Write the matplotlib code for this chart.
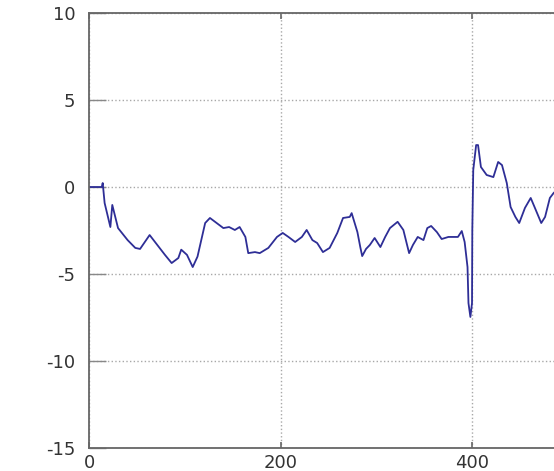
import matplotlib
matplotlib.use('Agg')
import matplotlib.pyplot as plt

# sample index and signal value
x = [0, 13, 14, 16, 22, 24, 30, 40, 48, 53, 63, 71, 79, 86, 93, 96,
     102, 108, 113, 121, 126, 133, 140, 146, 152, 157, 163, 166, 173, 178,
     187, 196, 202, 208, 215, 222, 227, 233, 238, 244, 251, 259, 265, 272,
     274, 280, 283, 285, 289, 293, 298, 304, 309, 314, 322, 328, 334, 338,
     343, 349, 353, 357, 363, 368, 375, 385, 389, 392, 395, 396, 398, 399.7,
     400, 401, 404, 406, 409, 415, 422, 427, 431, 436, 440, 445, 449, 455,
     461, 465, 472, 476, 481, 485, 490]
y = [0, 0, 0.23, -0.92, -2.3, -1.03, -2.36, -3.05, -3.5, -3.56, -2.76,
     -3.33, -3.9, -4.37, -4.08, -3.6, -3.9, -4.6, -4.0, -2.07, -1.78,
     -2.07, -2.36, -2.3, -2.47, -2.3, -2.87, -3.8, -3.74, -3.8, -3.5,
     -2.87, -2.64, -2.87, -3.16, -2.87, -2.47, -3.05, -3.22, -3.74, -3.5,
     -2.64, -1.78, -1.72, -1.5, -2.59, -3.45, -3.97, -3.56, -3.33, -2.93,
     -3.45, -2.87, -2.36, -2.0, -2.47, -3.8, -3.33, -2.87, -3.05, -2.36,
     -2.24, -2.59, -2.99, -2.87, -2.87, -2.53, -3.16, -4.6, -6.67, -7.47,
     -6.67, -2.47, 0.98, 2.41, 2.41, 1.15, 0.69, 0.57, 1.44, 1.26, 0.23,
     -1.15, -1.72, -2.07, -1.2, -0.63, -1.15, -2.07, -1.72, -0.63, -0.34,
     -0.1]

x_ticks = [0, 200, 400]
y_ticks = [-15, -10, -5, 0, 5, 10]

fig = plt.figure(figsize=(5.54, 4.71), dpi=100)
# axes run past the right edge, as in the cropped reference
ax = fig.add_axes([0.1612, 0.0488, 1.037, 0.9236])

ax.plot(x, y, color='#2e2e96', linewidth=1.3)

ax.set_xlim(0, 600)
ax.set_ylim(-15, 10)
ax.set_xticks(x_ticks)
ax.set_yticks(y_ticks)
ax.set_xticklabels([str(t) for t in x_ticks])
ax.set_yticklabels([str(t) for t in y_ticks])

ax.grid(True, linestyle=':', color='#a8a8a8', linewidth=1.0)

for s in ax.spines.values():
    s.set_color('#666666')
    s.set_linewidth(1.3)

ax.tick_params(axis='x', direction='in', length=4, width=1.2, color='#666666',
               top=True, labelsize=13, labelcolor='#333333', pad=4)
ax.tick_params(axis='y', direction='in', length=12, width=1.0, color='#888888',
               right=True, labelsize=13, labelcolor='#333333', pad=10)

fig.savefig('out.png', dpi=100)
